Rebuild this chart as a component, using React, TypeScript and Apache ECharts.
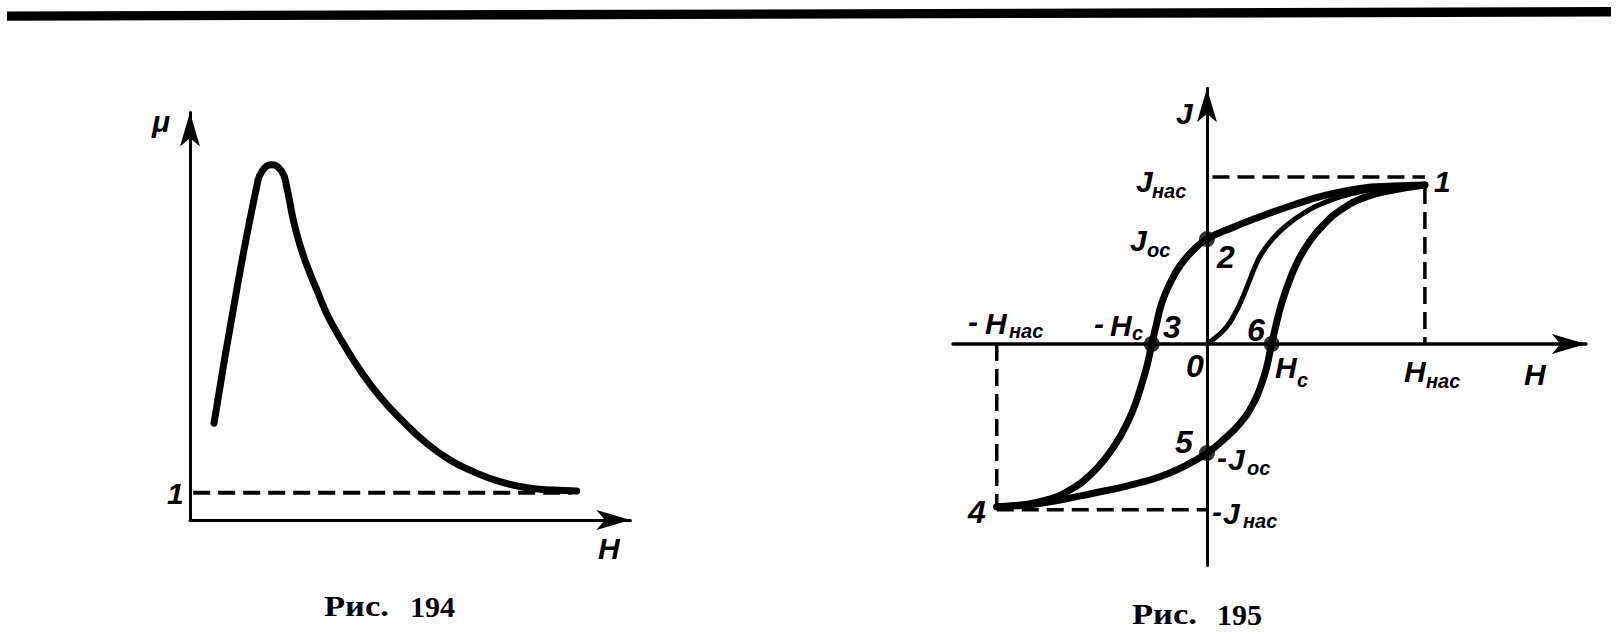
import React, { useEffect, useRef } from "react";
import * as echarts from "echarts";

// ---------- Рис. 194 : μ(H) ----------
const muH = [0.9, 1.75, 2.5, 2.69, 3.06, 3.44, 3.62, 3.87, 4.12, 4.37, 4.75, 5.18, 5.74, 6.37, 7.12, 7.99, 8.87, 9.74, 10.61, 11.61, 12.62, 13.61, 14.49];
const muValues = [3.56, 8.47, 12.27, 12.82, 13.07, 12.82, 12.27, 11.04, 10.12, 9.39, 8.47, 7.48, 6.5, 5.52, 4.54, 3.62, 2.82, 2.21, 1.78, 1.41, 1.19, 1.1, 1.07];
const muUnitLineH = [0.12, 14.3];
const muUnit = 1;

// ---------- Рис. 195 : hysteresis loop J(H) ----------
// descending branch 1 → 2 → 3 → 4
const descH = [9.95, 8.51, 6.99, 5.47, 3.94, 2.42, 1.2, 0, -0.63, -1.23, -1.69, -2.07, -2.3, -2.52, -2.75, -3.06, -3.44, -3.97, -4.58, -5.34, -6.26, -7.32, -8.54, -9.6];
const descJ = [9.7, 9.63, 9.49, 9.09, 8.48, 7.76, 7.12, 6.4, 5.72, 4.78, 3.7, 2.48, 1.26, 0, -1.38, -2.8, -4.23, -5.65, -6.87, -7.99, -8.9, -9.51, -9.82, -9.92];
// ascending branch 4 → 5 → 6 → 1
const ascH = [-9.6, -8.23, -6.71, -5.19, -3.67, -2.15, -0.93, 0, 0.74, 1.51, 2.12, 2.5, 2.73, 2.95, 3.18, 3.41, 3.72, 4.1, 4.63, 5.31, 6.22, 7.29, 8.51, 9.95];
const ascJ = [-9.92, -9.82, -9.51, -9.1, -8.66, -8.09, -7.38, -6.65, -5.85, -4.83, -3.61, -2.4, -1.38, 0, 1.32, 2.48, 3.7, 4.92, 6.14, 7.26, 8.27, 8.98, 9.39, 9.7];
// initial magnetisation curve 0 → 1
const initH = [0, 0.44, 0.9, 1.28, 1.58, 1.89, 2.19, 2.5, 2.95, 3.56, 4.4, 5.47, 6.68, 7.9, 9.12, 9.95];
const initJ = [0, 0.45, 1.05, 1.87, 2.68, 3.7, 4.71, 5.53, 6.34, 7.15, 7.97, 8.68, 9.19, 9.49, 9.63, 9.7];
// points 2, 3, 5, 6
const keyH = [0, -2.52, 0, 2.95];
const keyJ = [6.4, 0, -6.65, 0];
const Hsat = 9.95;
const HsatNeg = -9.6;
const Jsat = 10.18;
const JsatNeg = -10.1;
const HsatTopJ = 9.57;
const JsatStartH = 0.25;

const zip = (a: number[], b: number[]) => a.map((v, i) => [v, b[i]]);

const LABEL_FONT = '"Liberation Sans", Arial, sans-serif';
const CAPTION_FONT = '"Liberation Serif", "Times New Roman", serif';

function t(x: number, y: number, text: string, size: number, sx = 1) {
  return {
    type: "text",
    x,
    y,
    scaleX: sx,
    silent: true,
    style: {
      text,
      fill: "#000",
      fontFamily: LABEL_FONT,
      fontStyle: "italic",
      fontWeight: "bold",
      fontSize: size,
      align: "left",
      verticalAlign: "middle",
    },
  };
}

function cap(x: number, y: number, text: string, sx = 1) {
  return {
    type: "text",
    x,
    y,
    scaleX: sx,
    silent: true,
    style: {
      text,
      fill: "#000",
      fontFamily: CAPTION_FONT,
      fontWeight: "bold",
      fontSize: 30,
      align: "left",
      verticalAlign: "middle",
    },
  };
}

const axisCommon = {
  type: "value",
  splitLine: { show: false },
  axisTick: { show: false },
  axisLabel: { show: false },
};

function lineSeries(x: number[], y: number[], xi: number, width: number, smooth = 0.5, dashed = false) {
  return {
    type: "line",
    xAxisIndex: xi,
    yAxisIndex: xi,
    data: zip(x, y),
    showSymbol: false,
    symbol: "none",
    smooth: dashed ? false : smooth,
    silent: true,
    lineStyle: {
      color: "#000",
      width,
      type: dashed ? [17, 8] : "solid",
      cap: dashed ? "butt" : "round",
      join: "round",
    },
    z: dashed ? 2 : 3,
  };
}

const arrowLine = (w: number) => ({
  show: true,
  onZero: true,
  symbol: ["none", "arrow"],
  symbolSize: [15, 34],
  lineStyle: { color: "#000", width: w },
});

export default function App() {
  const ref = useRef<HTMLDivElement>(null);
  useEffect(() => {
    if (!ref.current) return;
    const chart = echarts.init(ref.current, undefined, { renderer: "svg" });
    const option: any = {
      animation: false,
      backgroundColor: "#fff",
      grid: [
        { left: 190, top: 112.4, width: 440.4, height: 407.6 },
        { left: 952.96, top: 88.2, width: 632.9, height: 477.2 },
      ],
      xAxis: [
        { ...axisCommon, gridIndex: 0, min: 0, max: 16.5, axisLine: arrowLine(3) },
        { ...axisCommon, gridIndex: 1, min: -11.6, max: 17.3, axisLine: arrowLine(3.5) },
      ],
      yAxis: [
        { ...axisCommon, gridIndex: 0, min: 0, max: 15, axisLine: arrowLine(3) },
        { ...axisCommon, gridIndex: 1, min: -13.5, max: 15.6, axisLine: arrowLine(3) },
      ],
      series: [
        lineSeries(muH, muValues, 0, 7, 0.5),
        lineSeries(muUnitLineH, [muUnit, muUnit], 0, 4, 0, true),
        lineSeries(descH, descJ, 1, 7, 0.5),
        lineSeries(ascH, ascJ, 1, 7, 0.5),
        lineSeries(initH, initJ, 1, 5, 0.5),
        lineSeries([JsatStartH, Hsat], [Jsat, Jsat], 1, 3.5, 0, true),
        lineSeries([Hsat, Hsat], [HsatTopJ, 0], 1, 3.5, 0, true),
        lineSeries([HsatNeg, HsatNeg], [0, descJ[descJ.length - 1]], 1, 3.5, 0, true),
        lineSeries([HsatNeg, 0], [JsatNeg, JsatNeg], 1, 3.5, 0, true),
        {
          type: "scatter",
          xAxisIndex: 1,
          yAxisIndex: 1,
          data: zip(keyH, keyJ),
          symbol: "circle",
          symbolSize: 16,
          itemStyle: { color: "#000" },
          silent: true,
          z: 5,
        },
      ],
      graphic: [
        {
          type: "polygon",
          silent: true,
          shape: { points: [[7, 11.5], [1611, 7], [1611, 16.5], [7, 20.7]] },
          style: { fill: "#000" },
        },
        // Рис. 194 labels
        t(152, 121, "μ", 30),
        t(167, 493, "1", 30),
        t(598, 548, "H", 30),
        // Рис. 195 labels
        t(1176, 113, "J", 30),
        t(1136, 181, "J", 30),
        t(1152, 191, "нас", 20),
        t(1130, 240, "J", 30),
        t(1147, 250, "ос", 20),
        t(1217, 257, "2", 32),
        t(968, 321, "-", 30),
        t(985, 323, "H", 30),
        t(1009, 331, "нас", 20),
        t(1094, 323, "-", 30),
        t(1110, 325, "H", 30),
        t(1132, 333, "c", 20),
        t(1163, 327, "3", 32),
        t(1186, 366, "0", 32),
        t(1247, 330, "6", 32),
        t(1275, 367, "H", 30),
        t(1297, 380, "c", 20),
        t(1404, 371, "H", 30),
        t(1426, 381, "нас", 20),
        t(1524, 374, "H", 30),
        t(1175, 442, "5", 32),
        t(1217, 457, "-", 30),
        t(1228, 459, "J", 30),
        t(1247, 468, "ос", 20),
        t(1212, 511, "-", 30),
        t(1223, 513, "J", 30),
        t(1243, 521, "нас", 20),
        t(968, 512, "4", 32),
        t(1434, 181, "1", 30),
        // captions
        cap(324, 606, "Рис.", 1.15),
        cap(410, 606, "194"),
        cap(1132, 614, "Рис.", 1.15),
        cap(1217, 614, "195"),
      ],
    };
    chart.setOption(option);
    return () => chart.dispose();
  }, []);
  return (
    <div
      ref={ref}
      style={{ position: "fixed", left: 0, top: 0, width: 1620, height: 636, background: "#fff" }}
    />
  );
}
